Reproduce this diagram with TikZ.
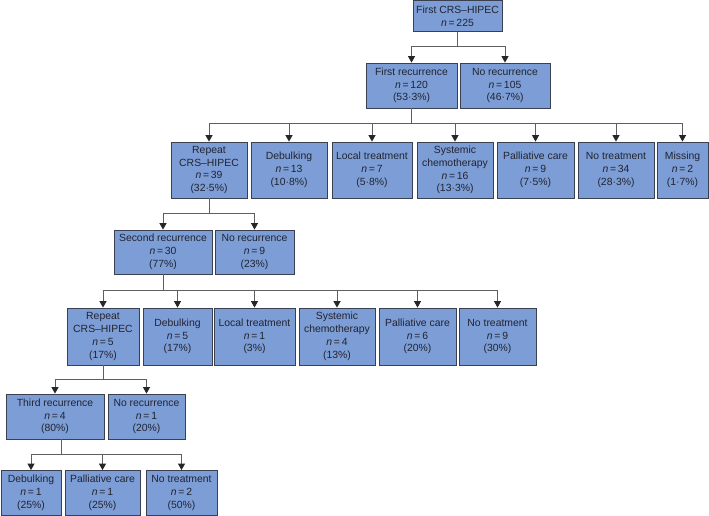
\documentclass[tikz,border=0pt]{standalone}
\usepackage{fontspec}
\setmainfont{Liberation Sans}
\usetikzlibrary{positioning,arrows.meta,calc}
\definecolor{boxblue}{RGB}{124,157,213}
\definecolor{boxedge}{RGB}{58,64,80}
\definecolor{linkgray}{RGB}{95,95,95}
\definecolor{textdark}{RGB}{34,36,48}

\tikzset{
  box/.style={draw=boxedge,fill=boxblue,line width=0.8pt,align=center,inner sep=1pt,
    text=textdark,font=\fontsize{10.4}{12.8}\selectfont},
  rowA/.style={box,minimum height=31pt},
  rowB/.style={box,minimum height=45pt},
  rowC/.style={box,minimum height=56pt},
  link/.style={draw=linkgray,line width=0.9pt},
  arr/.style={link,-{Triangle[length=6.5pt,width=7pt,color=black!85]}}
}
\newcommand{\nn}[1]{\textit{n}\,=\,#1}

\begin{document}
\begin{tikzpicture}[x=1pt,y=-1pt]
  \useasboundingbox (0,0) rectangle (709,516);
  % first operation
  \node[rowA,minimum width=89pt] (first) at (457.5,16) {First CRS–HIPEC\\\nn{225}};
  % first recurrence level
  \node[rowB,minimum width=91pt] (rec1) at (411.5,85.5) {First recurrence\\\nn{120}\\(53·3\%)};
  \node[rowB,minimum width=90pt] (norec1) at (505,85.5) {No recurrence\\\nn{105}\\(46·7\%)};
  \node[rowC,minimum width=76pt] (rep1) at (209,170) {Repeat\\CRS–HIPEC\\\nn{39}\\(32·5\%)};
  \node[rowC,minimum width=76pt] (deb1) at (289,170) {Debulking\\\nn{13}\\(10·8\%)};
  \node[rowC,minimum width=80pt] (loc1) at (372,170) {Local treatment\\\nn{7}\\(5·8\%)};
  \node[rowC,minimum width=76pt] (sys1) at (455,170) {Systemic\\chemotherapy\\\nn{16}\\(13·3\%)};
  \node[rowC,minimum width=77pt] (pal1) at (535.5,170) {Palliative care\\\nn{9}\\(7·5\%)};
  \node[rowC,minimum width=76pt] (not1) at (616,170) {No treatment\\\nn{34}\\(28·3\%)};
  \node[rowC,minimum width=51pt] (mis1) at (682.5,170) {Missing\\\nn{2}\\(1·7\%)};
  % second recurrence level
  \node[rowB,minimum width=98pt,minimum height=44pt] (rec2) at (163,252) {Second recurrence\\\nn{30}\\(77\%)};
  \node[rowB,minimum width=79pt,minimum height=44pt] (norec2) at (254.5,252) {No recurrence\\\nn{9}\\(23\%)};
  \node[rowC,minimum width=72pt,minimum height=57pt] (rep2) at (103,336.5) {Repeat\\CRS–HIPEC\\\nn{5}\\(17\%)};
  \node[rowC,minimum width=69pt,minimum height=57pt] (deb2) at (177.5,336.5) {Debulking\\\nn{5}\\(17\%)};
  \node[rowC,minimum width=81pt,minimum height=57pt] (loc2) at (254.5,336.5) {Local treatment\\\nn{1}\\(3\%)};
  \node[rowC,minimum width=76pt,minimum height=57pt] (sys2) at (337,336.5) {Systemic\\chemotherapy\\\nn{4}\\(13\%)};
  \node[rowC,minimum width=77pt,minimum height=57pt] (pal2) at (417.5,336.5) {Palliative care\\\nn{6}\\(20\%)};
  \node[rowC,minimum width=77pt,minimum height=57pt] (not2) at (497.5,336.5) {No treatment\\\nn{9}\\(30\%)};
  % third recurrence level
  \node[rowB,minimum width=98pt] (rec3) at (55,416.5) {Third recurrence\\\nn{4}\\(80\%)};
  \node[rowB,minimum width=77pt] (norec3) at (146.5,416.5) {No recurrence\\\nn{1}\\(20\%)};
  \node[rowB,minimum width=60pt] (deb3) at (31,493) {Debulking\\\nn{1}\\(25\%)};
  \node[rowB,minimum width=75pt] (pal3) at (102.5,493) {Palliative care\\\nn{1}\\(25\%)};
  \node[rowB,minimum width=71pt] (not3) at (181.5,493) {No treatment\\\nn{2}\\(50\%)};

  % connectors
  \draw[link] (first.south) -- ++(0,15) coordinate (b0);
  \foreach \c in {rec1,norec1} \draw[arr] (b0) -| (\c.north);
  \draw[link] (rec1.south) -- ++(0,15) coordinate (b1);
  \foreach \c in {rep1,deb1,loc1,sys1,pal1,not1,mis1} \draw[arr] (b1) -| (\c.north);
  \draw[link] (rep1.south) -- ++(0,15) coordinate (b2);
  \foreach \c in {rec2,norec2} \draw[arr] (b2) -| (\c.north);
  \draw[link] (rec2.south) -- ++(0,16) coordinate (b3);
  \foreach \c in {rep2,deb2,loc2,sys2,pal2,not2} \draw[arr] (b3) -| (\c.north);
  \draw[link] (rep2.south) -- ++(0,14) coordinate (b4);
  \foreach \c in {rec3,norec3} \draw[arr] (b4) -| (\c.north);
  \draw[link] ([xshift=6pt]rec3.south) -- ++(0,15) coordinate (b5);
  \foreach \c in {deb3,pal3,not3} \draw[arr] (b5) -| (\c.north);
\end{tikzpicture}
\end{document}
